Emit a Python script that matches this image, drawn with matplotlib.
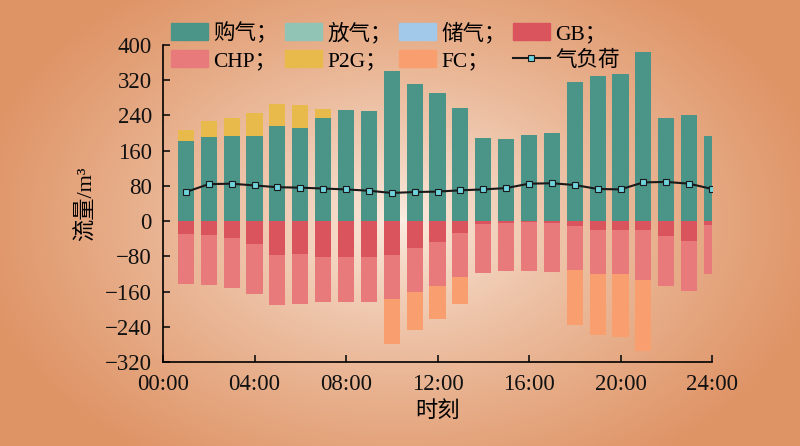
import numpy as np
import matplotlib.pyplot as plt
from matplotlib.patches import Patch
from matplotlib.lines import Line2D

'''stacked gas balance bars with gas load line'''

hours = np.arange(1, 25)
buy_gas = [181, 190, 194, 193, 216, 212, 234, 252, 250, 341, 312, 290,
           257, 188, 187, 195, 201, 315, 330, 335, 384, 235, 240, 193]
release_gas = [0] * 24
store_gas = [0] * 24
p2g = [27, 37, 41, 52, 49, 51, 21, 0, 0, 0, 0, 0,
       0, 0, 0, 0, 0, 0, 0, 0, 0, 0, 0, 0]
gb = [30, 32, 39, 52, 77, 75, 81, 81, 81, 77, 61, 48,
      27, 6, 4, 1.5, 4, 11, 21, 21, 21, 34, 46, 8]
chp = [112, 113, 113, 113, 113, 114, 102, 102, 102, 100, 99, 100,
       99, 112, 110, 112, 112, 100, 99, 100, 112, 114, 112, 113]
fc = [0, 0, 0, 0, 0, 0, 0, 0, 0, 103, 88, 74,
      63, 0, 0, 0, 0, 124, 139, 143, 163, 0, 0, 0]
gas_load = [66, 84, 85, 81, 77, 76, 74, 72, 69, 64, 66, 67,
            70, 72, 75, 85, 86, 82, 73, 72, 88, 89, 85, 73]
xticks = [0, 4, 8, 12, 16, 20, 24]
xticklabels = ['00:00', '04:00', '08:00', '12:00', '16:00', '20:00', '24:00']
yticks = [-320, -240, -160, -80, 0, 80, 160, 240, 320, 400]

c_buy = '#4b9488'
c_rel = '#92c4b6'
c_sto = '#a3c9ea'
c_gb = '#d9545c'
c_chp = '#e97a7c'
c_p2g = '#e8b94b'
c_fc = '#f89e6f'

plt.rcParams['font.family'] = ['Liberation Serif', 'Noto Sans CJK SC']
plt.rcParams['axes.unicode_minus'] = True

fig = plt.figure(figsize=(8, 4.46), dpi=100)

# radial gradient background
bg = fig.add_axes([0, 0, 1, 1], zorder=-10)
yy, xx = np.mgrid[0:446, 0:800]
r = np.sqrt(((xx - 400) / 430.0) ** 2 + ((yy - 220) / 290.0) ** 2)
r = np.clip(r, 0, 1) ** 0.75
light = np.array([252, 240, 230]) / 255.0
dark = np.array([223, 148, 102]) / 255.0
img = light[None, None, :] * (1 - r[..., None]) + dark[None, None, :] * r[..., None]
bg.imshow(img, aspect='auto', extent=[0, 1, 0, 1])
bg.axis('off')

ax = fig.add_axes([163 / 800, 1 - 362 / 446, (712 - 163) / 800, (362 - 45) / 446])
ax.patch.set_alpha(0)

w = 0.7
b = np.array(buy_gas, dtype=float)
ax.bar(hours, buy_gas, w, color=c_buy, zorder=2)
ax.bar(hours, release_gas, w, bottom=b, color=c_rel, zorder=2)
b = b + np.array(release_gas)
ax.bar(hours, p2g, w, bottom=b, color=c_p2g, zorder=2)
ax.bar(hours, [-v for v in store_gas], w, color=c_sto, zorder=2)
neg = -np.array(store_gas, dtype=float)
ax.bar(hours, [-v for v in gb], w, bottom=neg, color=c_gb, zorder=2)
neg = neg - np.array(gb)
ax.bar(hours, [-v for v in chp], w, bottom=neg, color=c_chp, zorder=2)
neg = neg - np.array(chp)
ax.bar(hours, [-v for v in fc], w, bottom=neg, color=c_fc, zorder=2)

ax.plot(hours, gas_load, color='#1a1a1a', lw=1.5, marker='s', ms=4.5,
        mfc='#6fd3dc', mec='#1a1a1a', mew=0.8, zorder=3)

ax.set_xlim(0, 24)
ax.set_ylim(-320, 400)
ax.set_xticks(xticks)
ax.set_xticklabels(xticklabels)
ax.set_yticks(yticks)
ax.tick_params(direction='in', length=5, width=1.2, labelsize=16.5, colors='#111111')
ax.tick_params(axis='x', pad=9)
ax.tick_params(axis='y', pad=8)
for s in ['top', 'right']:
    ax.spines[s].set_visible(False)
for s in ['left', 'bottom']:
    ax.spines[s].set_linewidth(1.2)
ax.set_xlabel('时刻', fontsize=16, labelpad=4)
ax.set_ylabel('流量/m³', fontsize=16, labelpad=6)

# legend fills column by column, so order for 2 rows x 4 columns
handles = [Patch(color=c_buy), Patch(color=c_chp), Patch(color=c_rel), Patch(color=c_p2g),
           Patch(color=c_sto), Patch(color=c_fc), Patch(color=c_gb),
           Line2D([], [], color='#1a1a1a', lw=1.5, marker='s', ms=4.5,
                  mfc='#6fd3dc', mec='#1a1a1a', mew=0.8)]
labels = ['购气；', 'CHP；', '放气；', 'P2G；', '储气；', 'FC；', 'GB；', '气负荷']
leg = fig.legend(handles, labels, ncol=4, loc='upper left',
                 bbox_to_anchor=(171 / 800, 1 - 22 / 446), frameon=False,
                 fontsize=15.5, handlelength=1.7, handleheight=0.8,
                 handletextpad=0.25, columnspacing=0.35, labelspacing=0.3,
                 borderaxespad=0, borderpad=0)

fig.savefig('out.png', dpi=100)
